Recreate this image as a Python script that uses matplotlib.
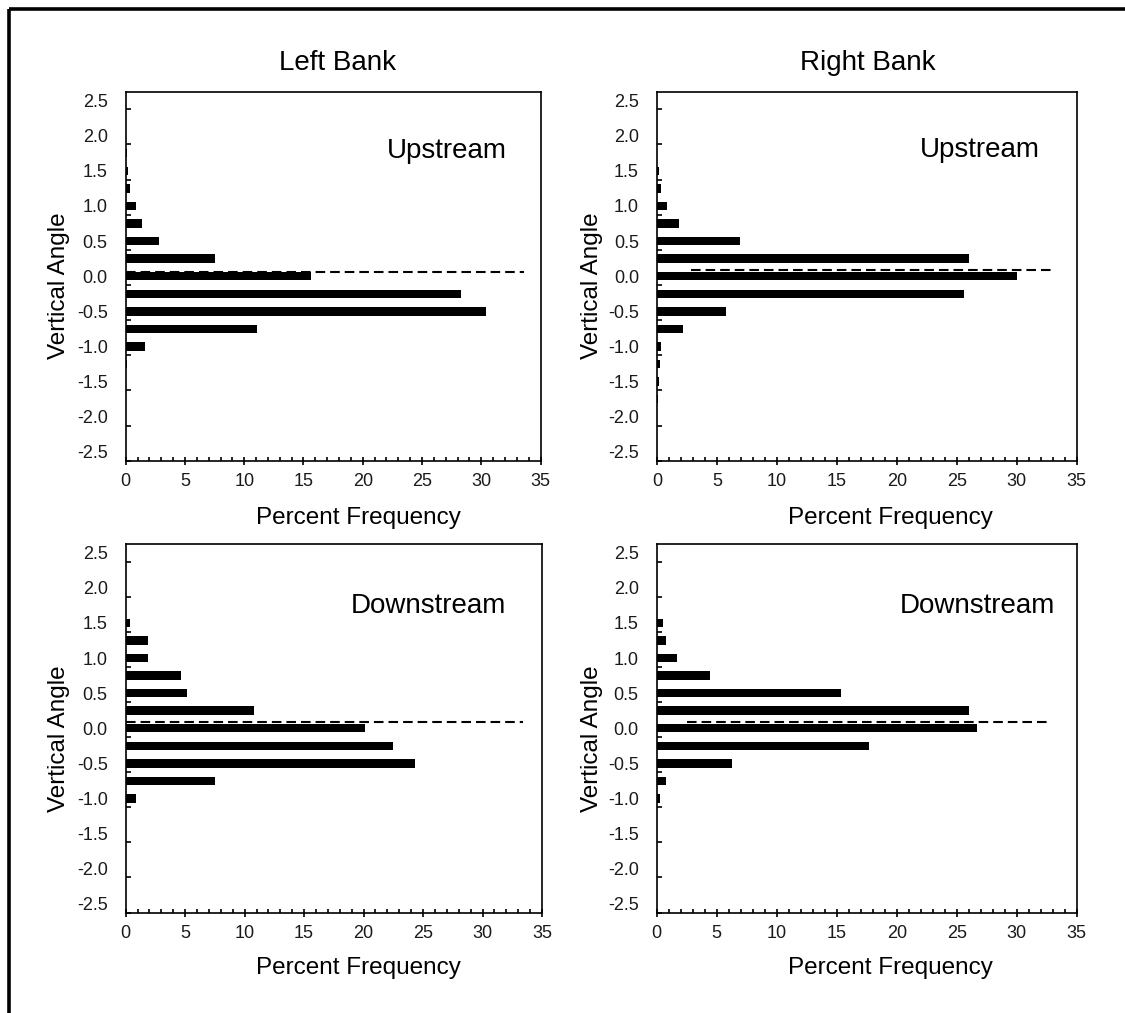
import matplotlib
matplotlib.use("Agg")
import matplotlib.pyplot as plt
from matplotlib.lines import Line2D
from matplotlib.ticker import MultipleLocator, FixedLocator

plt.rcParams['font.family'] = ['Liberation Sans', 'DejaVu Sans']

# ---------------- data ----------------
angles = [2.5, 2.25, 2.0, 1.75, 1.5, 1.25, 1.0, 0.75, 0.5, 0.25, 0.0,
          -0.25, -0.5, -0.75, -1.0, -1.25, -1.5, -1.75, -2.0, -2.25, -2.5]
ytick_labels = ['2.5', '2.0', '1.5', '1.0', '0.5', '0.0',
                '-0.5', '-1.0', '-1.5', '-2.0', '-2.5']
xtick_values = [0, 5, 10, 15, 20, 25, 30, 35]

left_upstream = [0, 0, 0, 0.1, 0.2, 0.4, 0.9, 1.4, 2.85, 7.55, 15.6,
                 28.3, 30.4, 11.1, 1.6, 0.1, 0, 0, 0, 0, 0]
right_upstream = [0, 0, 0, 0, 0.15, 0.35, 0.85, 1.8, 6.9, 26.0, 30.05,
                  25.6, 5.75, 2.2, 0.35, 0.25, 0.15, 0.1, 0, 0, 0]
left_downstream = [0, 0, 0, 0, 0.4, 1.85, 1.85, 4.65, 5.15, 10.8, 20.15,
                   22.5, 24.3, 7.5, 0.9, 0, 0, 0, 0, 0, 0]
right_downstream = [0, 0, 0, 0, 0.5, 0.8, 1.65, 4.4, 15.35, 26.0, 26.7,
                    17.65, 6.3, 0.8, 0.25, 0, 0, 0, 0, 0, 0]

# dashed reference line per panel (angle, start %, end %)
dash_angle = [0.06, 0.085, 0.085, 0.095]
dash_start = [0.0, 2.85, 0.0, 2.55]
dash_end = [33.6, 33.1, 33.4, 32.85]

panel_names = ['Upstream', 'Upstream', 'Downstream', 'Downstream']
bank_titles = ['Left Bank', 'Right Bank']

# ---------------- layout ----------------
W, H = 1125, 1013
fig = plt.figure(figsize=(W / 100, H / 100), dpi=100)


def px_axes(l, r, t, b):
    return fig.add_axes([l / W, 1 - b / H, (r - l) / W, (b - t) / H])


rects = [(125.7, 540.5, 91.7, 460.7), (657.0, 1076.7, 91.7, 460.7),
         (125.7, 542.0, 544.0, 912.5), (656.7, 1076.7, 544.0, 912.5)]
series = [left_upstream, right_upstream, left_downstream, right_downstream]
label_pos = [(447, 151), (980, 150), (428, 606), (977, 606)]

step = angles[0] - angles[1]
for i, (rect, vals) in enumerate(zip(rects, series)):
    ax = px_axes(*rect)
    ax.barh(angles, vals, height=step * 0.48, color='black', align='center')
    ax.plot([dash_start[i], dash_end[i]], [dash_angle[i]] * 2, color='black',
            lw=1.5, ls=(0, (4.6, 2.4)))
    ax.set_xlim(0, 35)
    ax.set_ylim(angles[-1] - step / 2, angles[0] + step / 2)

    # y axis: labels on every second category, tick marks between categories
    ax.yaxis.set_major_locator(FixedLocator(angles[::2]))
    ax.set_yticklabels(ytick_labels)
    ax.yaxis.set_minor_locator(FixedLocator([a - step / 2 for a in angles[::2]]))
    ax.tick_params(axis='y', which='major', length=0, pad=13, labelsize=13,
                   labelcolor='#1a1a1a')
    ax.tick_params(axis='y', which='minor', direction='in', length=3.6,
                   width=1.2, left=True)

    # x axis
    ax.set_xticks(xtick_values)
    ax.xaxis.set_minor_locator(MultipleLocator(1))
    ax.tick_params(axis='x', which='major', direction='inout', length=5.8,
                   width=1.2, pad=6, labelsize=13, labelcolor='#1a1a1a')
    ax.tick_params(axis='x', which='minor', direction='in', length=2.9,
                   width=1.2, bottom=True)

    for sp in ax.spines.values():
        sp.set_linewidth(1.2)

    lx, ly = label_pos[i]
    fig.text(lx / W, 1 - ly / H, panel_names[i], ha='center', va='center',
             fontsize=20)

# bank titles
fig.text(338 / W, 1 - 63 / H, bank_titles[0], ha='center', va='center', fontsize=20)
fig.text(868 / W, 1 - 63 / H, bank_titles[1], ha='center', va='center', fontsize=20)

# axis titles
for (x, y) in [(358, 518), (890, 518), (358, 968), (890, 968)]:
    fig.text(x / W, 1 - y / H, 'Percent Frequency', ha='center', va='center',
             fontsize=17.5)
for (x, y) in [(59, 286), (592, 286), (59, 739), (592, 739)]:
    fig.text(x / W, 1 - y / H, 'Vertical Angle', ha='center', va='center',
             fontsize=17.5, rotation=90)

# outer frame (top and left edges visible)
fig.add_artist(Line2D([9 / W, 1], [1 - 9.5 / H] * 2, color='black', lw=2.6,
                      solid_capstyle='butt'))
fig.add_artist(Line2D([9 / W] * 2, [0, 1 - 9.5 / H], color='black', lw=2.6,
                      solid_capstyle='butt'))

fig.savefig('out.png', dpi=100)
